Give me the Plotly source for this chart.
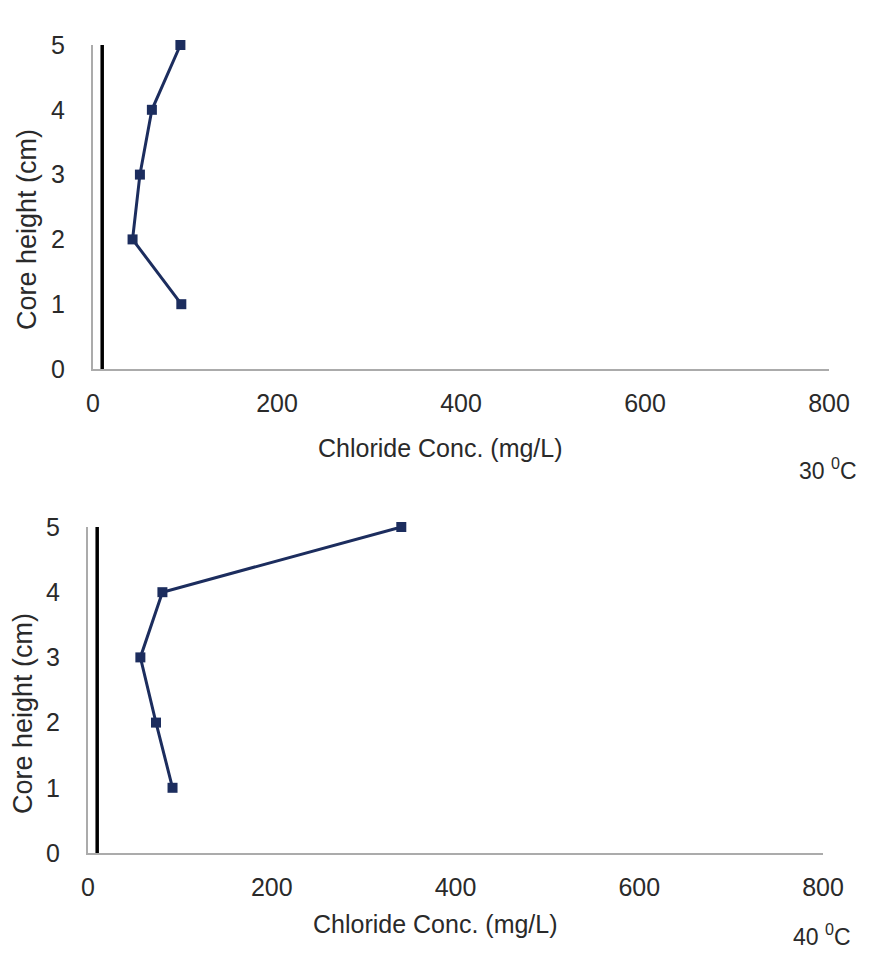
import plotly.graph_objects as go

heights = [1, 2, 3, 4, 5]
chloride_30 = [96, 43, 51, 64, 95]
chloride_40 = [92, 74, 57, 81, 341]
ref_line_x = [10, 10]
ref_line_y = [0, 5]
x_ticks = [0, 200, 400, 600, 800]
y_ticks = [0, 1, 2, 3, 4, 5]

LINE = "#1c2d5e"
FONT = "Liberation Sans, Arial, sans-serif"
TXT = "#2a2a2a"

fig = go.Figure()

for xs, ax in [(chloride_30, ""), (chloride_40, "2")]:
    fig.add_trace(go.Scatter(x=ref_line_x, y=ref_line_y, mode="lines",
                             line=dict(color="black", width=3.5),
                             xaxis="x" + ax, yaxis="y" + ax, showlegend=False,
                             cliponaxis=False, hoverinfo="skip"))
    fig.add_trace(go.Scatter(x=xs, y=heights, mode="lines+markers",
                             line=dict(color=LINE, width=3),
                             marker=dict(symbol="square", size=10, color=LINE),
                             xaxis="x" + ax, yaxis="y" + ax, showlegend=False,
                             cliponaxis=False))

xcommon = dict(range=[0, 800], tickvals=x_ticks, showgrid=False, zeroline=False,
               showline=True, linecolor="#ababab", linewidth=2, automargin=False,
               ticks="outside", ticklen=11, tickcolor="rgba(0,0,0,0)",
               tickfont=dict(size=25, color=TXT, family=FONT))
ycommon = dict(range=[0, 5], tickvals=y_ticks, showgrid=False, zeroline=False,
               showline=True, linecolor="#ababab", linewidth=2, automargin=False,
               ticks="outside", ticklen=21, tickcolor="rgba(0,0,0,0)",
               tickfont=dict(size=25, color=TXT, family=FONT))

fig.update_layout(
    width=873, height=967,
    margin=dict(l=0, r=0, t=0, b=0),
    paper_bgcolor="white", plot_bgcolor="white",
    font=dict(family=FONT, color=TXT),
    xaxis=dict(domain=[0.10653, 0.94960], anchor="y", **xcommon),
    yaxis=dict(domain=[0.61841, 0.95346], anchor="x", **ycommon),
    xaxis2=dict(domain=[0.10080, 0.94273], anchor="y2", **xcommon),
    yaxis2=dict(domain=[0.11789, 0.45502], anchor="x2", **ycommon),
)

ann = [
    dict(text="Core height (cm)", x=27, y=230, textangle=-90, size=27),
    dict(text="Core height (cm)", x=23, y=714, textangle=-90, size=27),
    dict(text="Chloride Conc. (mg/L)", x=440, y=448, textangle=0, size=25),
    dict(text="Chloride Conc. (mg/L)", x=435, y=924, textangle=0, size=25),
    dict(text="30 <sup>0</sup>C", x=828, y=469, textangle=0, size=23),
    dict(text="40 <sup>0</sup>C", x=822, y=935, textangle=0, size=23),
]
for a in ann:
    fig.add_annotation(text=a["text"], xref="paper", yref="paper",
                       x=a["x"] / 873, y=1 - a["y"] / 967,
                       xanchor="center", yanchor="middle", showarrow=False,
                       textangle=a["textangle"],
                       font=dict(size=a["size"], family=FONT, color=TXT))

fig.write_html("out.html")
